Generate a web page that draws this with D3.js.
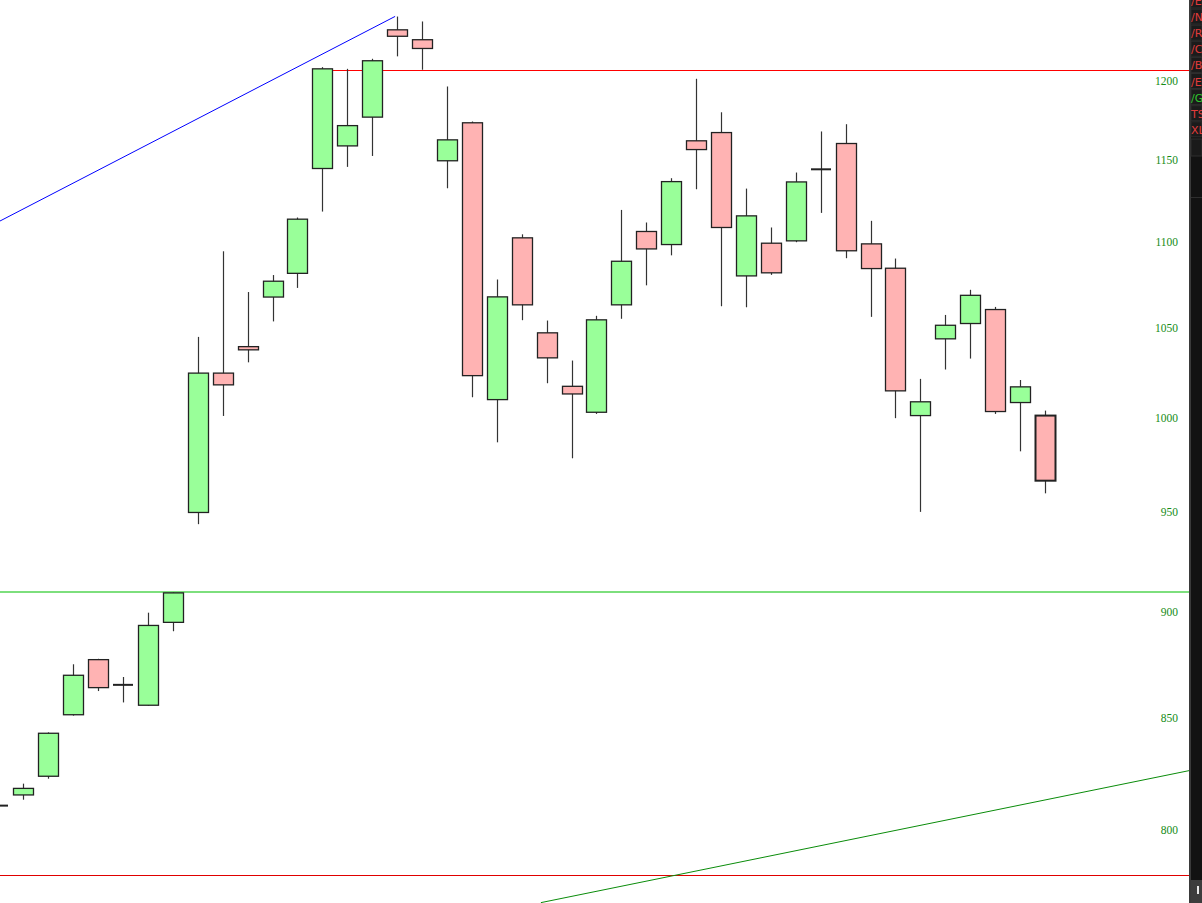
<!DOCTYPE html>
<html>
<head>
<meta charset="utf-8">
<script src="https://cdn.jsdelivr.net/npm/d3@7"></script>
<style>
body { margin: 0; background: #fff; }
</style>
</head>
<body>
<div id="chart"></div>
<script>
"use strict";

// candle values (index 0 is the half-hidden doji at the left edge)
var opens  = [810.5, 815.2, 823.5, 851.4, 877.2, 865.3, 855.8, 895.1, 950.0, 1024.5,
              1039.3, 1067.6, 1081.4, 1144.6, 1158.7, 1176.9, 1233.9, 1227.3, 1149.4, 1173.3,
              1009.9, 1102.4, 1047.1, 1017.2, 1003.0, 1063.1, 1106.2, 1098.4, 1161.9, 1167.1,
              1079.9, 1099.2, 1100.6, 1144.1, 1160.2, 1098.8, 1084.4, 1001.2, 1043.7, 1052.4,
              1060.4, 1008.3, 1001.2];
var highs  = [811.0, 820.2, 843.3, 875.0, 877.6, 869.0, 899.8, 909.7, 1044.8, 1094.4,
              1070.5, 1080.4, 1114.6, 1209.2, 1208.1, 1214.7, 1242.8, 1239.5, 1196.6, 1174.1,
              1077.8, 1104.5, 1054.1, 1031.5, 1056.8, 1119.2, 1111.6, 1138.6, 1201.6, 1180.0,
              1132.2, 1108.6, 1142.1, 1167.8, 1172.4, 1112.6, 1090.1, 1021.3, 1057.3, 1071.8,
              1061.9, 1020.7, 1003.9];
var lows   = [810.0, 813.1, 822.4, 851.0, 862.4, 857.1, 855.6, 890.8, 944.0, 1001.0,
              1030.5, 1053.6, 1072.9, 1118.2, 1145.6, 1152.4, 1216.3, 1207.5, 1132.4, 1011.2,
              986.8, 1054.3, 1018.9, 978.3, 1002.1, 1055.1, 1074.4, 1092.0, 1131.8, 1062.3,
              1061.7, 1080.5, 1099.8, 1117.4, 1090.3, 1056.2, 999.8, 950.3, 1026.5, 1032.6,
              1002.1, 982.0, 959.9];
var closes = [810.5, 818.1, 842.9, 869.8, 864.0, 865.3, 893.6, 909.5, 1024.5, 1018.0,
              1037.5, 1076.8, 1113.6, 1208.1, 1171.5, 1213.4, 1229.6, 1221.5, 1162.5, 1023.1,
              1067.7, 1063.1, 1033.0, 1013.0, 1054.5, 1088.5, 1095.8, 1136.5, 1156.4, 1108.6,
              1115.6, 1081.7, 1136.3, 1144.1, 1094.7, 1084.2, 1014.7, 1008.7, 1051.4, 1068.6,
              1003.4, 1016.9, 966.5];

var price_ticks = [800, 850, 900, 950, 1000, 1050, 1100, 1150, 1200];

// drawn lines: [start index, start price, end index, end price]
var blue_trend  = [0, 1112.5, 15.92, 1242.9];
var green_trend = [21.77, 769.0, 47.78, 826.0];
var red_level   = [13, 1207.2, 47.78, 1207.2];
var green_level = [-1, 909.8, 47.78, 909.8];
var low_level   = [-1, 780.6, 47.78, 780.6];

var side_labels = ["/E", "/N", "/R", "/C", "/B", "/E", "/G", "TS", "XL"];

function draw_chart(){
    var w = 1202, h = 903;
    var plot_right = 1189;

    var svg = d3.select("#chart")
        .append("svg")
        .attr("width", w)
        .attr("height", h);

    svg.append("rect")
        .attr("width", w)
        .attr("height", h)
        .attr("fill", "#ffffff");

    var x = d3.scaleLinear()
        .domain([0, 42])
        .range([-1.6, 1045]);

    var y = d3.scaleLog()
        .domain([780.6, 1254.0])
        .range([875, 0]);

    var plot = svg.append("g");

    function trend(seg, color, width){
        plot.append("line")
            .attr("x1", Math.max(0, x(seg[0])))
            .attr("y1", y(seg[1]))
            .attr("x2", Math.min(plot_right, x(seg[2])))
            .attr("y2", y(seg[3]))
            .attr("stroke", color)
            .attr("stroke-width", width);
    }

    // flat lines snapped to the pixel grid so they stay crisp
    function level(seg, color, width){
        var yy = width % 2 == 1 ? Math.round(y(seg[1])) + 0.5 : Math.round(y(seg[1]));
        plot.append("line")
            .attr("x1", Math.max(0, Math.round(x(seg[0]))))
            .attr("y1", yy)
            .attr("x2", Math.min(plot_right, x(seg[2])))
            .attr("y2", yy)
            .attr("stroke", color)
            .attr("stroke-width", width)
            .attr("shape-rendering", "crispEdges");
    }

    level(low_level, "#e00000", 1);
    level(green_level, "#7ddf7d", 2);
    level(red_level, "#ff0000", 1);
    trend(blue_trend, "#0000ff", 1);
    trend(green_trend, "#0a8c0a", 1);

    // price labels
    plot.selectAll("text.tick")
        .data(price_ticks)
        .enter()
        .append("text")
        .attr("class", "tick")
        .attr("x", 1178)
        .attr("y", function(d){ return y(d) + 4; })
        .attr("text-anchor", "end")
        .attr("font-family", "Liberation Serif, serif")
        .attr("font-size", "11.5px")
        .attr("fill", "#168c16")
        .text(function(d){ return d; });

    var candles = d3.range(opens.length);

    var g = plot.selectAll("g.candle")
        .data(candles)
        .enter()
        .append("g")
        .attr("class", "candle");

    g.append("line")
        .attr("x1", function(i){ return Math.round(x(i)) + 0.5; })
        .attr("x2", function(i){ return Math.round(x(i)) + 0.5; })
        .attr("y1", function(i){ return y(highs[i]); })
        .attr("y2", function(i){ return y(lows[i]); })
        .attr("stroke", "#333")
        .attr("stroke-width", 1.2);

    g.filter(function(i){ return opens[i] != closes[i]; })
        .append("rect")
        .attr("x", function(i){ return Math.round(x(i)) - 9.5; })
        .attr("width", 20)
        .attr("y", function(i){ return y(Math.max(opens[i], closes[i])); })
        .attr("height", function(i){ return y(Math.min(opens[i], closes[i])) - y(Math.max(opens[i], closes[i])); })
        .attr("fill", function(i){ return closes[i] > opens[i] ? "#99ff99" : "#ffb3b3"; })
        .attr("stroke", "#222")
        .attr("stroke-width", function(i){ return i == opens.length - 1 ? 2 : 1.3; });

    g.filter(function(i){ return opens[i] == closes[i]; })
        .append("line")
        .attr("x1", function(i){ return Math.round(x(i)) - 10; })
        .attr("x2", function(i){ return Math.round(x(i)) + 10; })
        .attr("y1", function(i){ return y(opens[i]); })
        .attr("y2", function(i){ return y(opens[i]); })
        .attr("stroke", "#222")
        .attr("stroke-width", 2);

    // dark strip at the right edge
    var side = svg.append("g");

    side.append("rect")
        .attr("x", plot_right)
        .attr("y", 0)
        .attr("width", w - plot_right)
        .attr("height", h)
        .attr("fill", "#121212");

    side.append("rect")
        .attr("x", plot_right)
        .attr("y", 0)
        .attr("width", 2)
        .attr("height", h)
        .attr("fill", "#3a3a3a");

    side.selectAll("rect.row")
        .data(side_labels)
        .enter()
        .append("rect")
        .attr("class", "row")
        .attr("x", plot_right + 2)
        .attr("y", function(d, i){ return -7 + i * 16.1; })
        .attr("width", w - plot_right - 2)
        .attr("height", 15)
        .attr("fill", "#1b1b1b")
        .attr("stroke", "#2e2e2e")
        .attr("stroke-width", 1);

    side.selectAll("text.row")
        .data(side_labels)
        .enter()
        .append("text")
        .attr("class", "row")
        .attr("x", plot_right + 2)
        .attr("y", function(d, i){ return 5 + i * 16.1; })
        .attr("font-family", "DejaVu Sans, sans-serif")
        .attr("font-size", "11px")
        .attr("fill", function(d){ return d == "/G" ? "#2fc42f" : "#e23b3b"; })
        .text(function(d){ return d; });

    side.append("rect")
        .attr("x", plot_right + 2)
        .attr("y", 139)
        .attr("width", w - plot_right - 2)
        .attr("height", 17)
        .attr("fill", "#1a1a1a")
        .attr("stroke", "#2e2e2e");

    side.append("rect")
        .attr("x", plot_right + 2)
        .attr("y", 197)
        .attr("width", w - plot_right - 2)
        .attr("height", 1)
        .attr("fill", "#2e2e2e");

    side.append("rect")
        .attr("x", plot_right + 2)
        .attr("y", 880)
        .attr("width", w - plot_right - 2)
        .attr("height", 23)
        .attr("fill", "#3d3d3d");

    side.append("rect")
        .attr("x", 1197)
        .attr("y", 886)
        .attr("width", 2)
        .attr("height", 8)
        .attr("fill", "#e8e8e8");
}

draw_chart();
</script>
</body>
</html>
